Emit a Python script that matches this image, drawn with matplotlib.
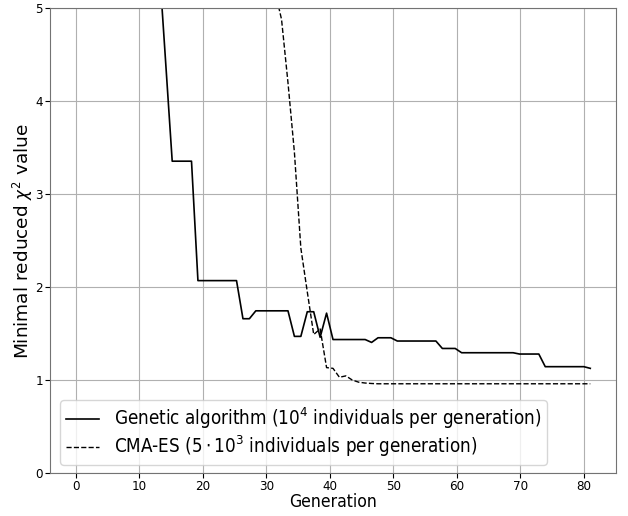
import numpy as np
import matplotlib
matplotlib.use("Agg")
import matplotlib.pyplot as plt

plt.rcParams['font.family'] = ['DejaVu Sans']
plt.rcParams['font.stretch'] = 'condensed'
plt.rcParams['mathtext.fontset'] = 'dejavusans'

# 81 recorded generations spread over generation axis 0..81
generation = np.linspace(0, 81, 81)

genetic = [38.2, 27.5, 21.3, 17.9, 14.6, 12.1, 10.8, 9.4, 8.2, 7.5,
           6.9, 6.3, 5.9, 5.44, 4.40,
           3.355, 3.355, 3.355, 3.355,
           2.07, 2.07, 2.07, 2.07, 2.07, 2.07, 2.07,
           1.66, 1.66,
           1.745, 1.745, 1.745, 1.745, 1.745, 1.745,
           1.47, 1.47,
           1.735, 1.735,
           1.46, 1.72,
           1.436, 1.436, 1.436, 1.436, 1.436, 1.436,
           1.405,
           1.455, 1.455, 1.455,
           1.42, 1.42, 1.42, 1.42, 1.42, 1.42, 1.42,
           1.34, 1.34, 1.34,
           1.294, 1.294, 1.294, 1.294, 1.294, 1.294, 1.294, 1.294, 1.294,
           1.28, 1.28, 1.28, 1.28,
           1.144, 1.144, 1.144, 1.144, 1.144, 1.144, 1.144,
           1.126]

cma_es = [61.0, 52.0, 45.0, 39.5, 35.0, 31.0, 27.8, 25.0, 22.6, 20.5,
          18.7, 17.1, 15.7, 14.5, 13.4, 12.4, 11.5, 10.7, 10.0, 9.4,
          8.8, 8.3, 7.8, 7.4, 7.0, 6.6, 6.3, 6.0, 5.75, 5.5,
          5.3, 5.18, 4.88, 4.2, 3.45, 2.42, 1.95, 1.49, 1.55, 1.134,
          1.126, 1.03, 1.045, 1.0, 0.977, 0.968, 0.963, 0.96, 0.96, 0.96,
          0.96, 0.96, 0.96, 0.96, 0.96, 0.96, 0.96, 0.96, 0.96, 0.96,
          0.96, 0.96, 0.96, 0.96, 0.96, 0.96, 0.96, 0.96, 0.96, 0.96,
          0.96, 0.96, 0.96, 0.96, 0.96, 0.96, 0.96, 0.96, 0.96, 0.96,
          0.96]

label_ga = r"Genetic algorithm ($10^4$ individuals per generation)"
label_cma = r"CMA-ES ($5\cdot10^3$ individuals per generation)"
xticks = [0, 10, 20, 30, 40, 50, 60, 70, 80]
yticks = [0, 1, 2, 3, 4, 5]

W, H = 628, 516
left_px, right_px, top_px, bottom_px = 50, 616, 8.3, 473
fig = plt.figure(figsize=(W / 100, H / 100), dpi=100)
ax = fig.add_axes([left_px / W, 1 - bottom_px / H,
                   (right_px - left_px) / W, (bottom_px - top_px) / H])

ax.plot(generation, genetic, color='black', lw=1.2, label=label_ga)
ax.plot(generation, cma_es, color='black', lw=1.0, ls='--', label=label_cma)

ax.set_ylim(0, 5)
ax.set_xticks(xticks)
ax.set_yticks(yticks)
ax.tick_params(labelsize=9.5, pad=1.5)
ax.grid(True, color='#b0b0b0', lw=0.8)
ax.set_axisbelow(True)
for s in ax.spines.values():
    s.set_color('0.45')
ax.set_xlabel("Generation", fontsize=12.6, labelpad=0)
ax.set_ylabel(r"Minimal reduced $\chi^2$ value", fontsize=13.3,
              fontstretch='normal', labelpad=0)

leg_x = (60 - left_px) / (right_px - left_px)
leg_y = (bottom_px - 465) / (bottom_px - top_px)
ax.legend(loc='lower left', bbox_to_anchor=(leg_x, leg_y), borderaxespad=0,
          fontsize=13.5, handlelength=1.8, labelspacing=0.15, borderpad=0.3)

fig.savefig("out.png", dpi=100)
